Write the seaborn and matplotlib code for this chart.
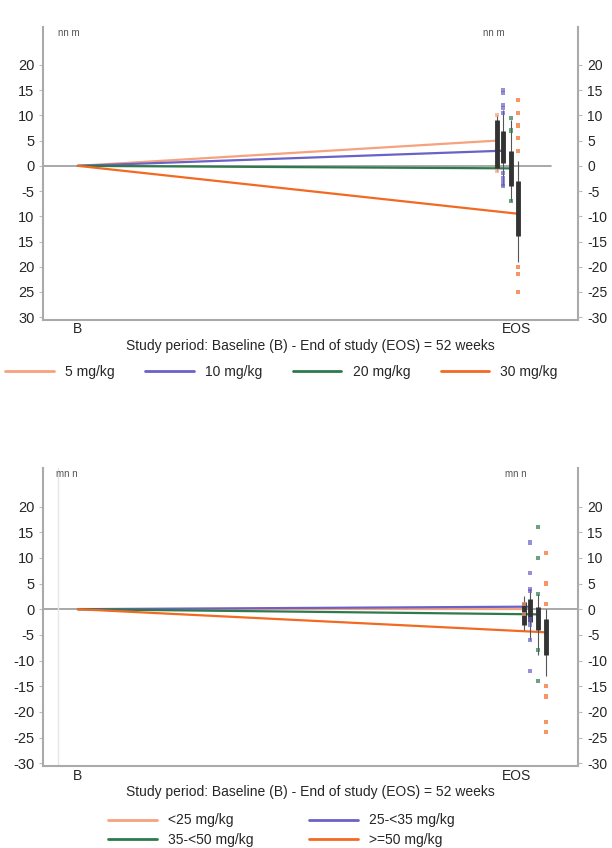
import pandas as pd
import matplotlib.pyplot as plt
import seaborn as sns
import numpy as np
from matplotlib.lines import Line2D

# data
top_groups = ['5 mg/kg', '10 mg/kg', '20 mg/kg', '30 mg/kg']
top_eos = [5, 3, -0.5, -9.5]
top_q1 = [-0.5, 0.5, -4, -14]
top_med = [5, 3, -0.5, -9.5]
top_q3 = [9, 7, 3, -3]
top_lo = [-1, -4, -7, -19]
top_hi = [10, 11, 9, 1]
top_pts = [[10, -1],
           [15, 14.5, 12, 11.5, 10.5, -1.5, -2.5, -3.5, -4],
           [9.5, 7, -7],
           [13, 10.5, 8, 5.5, 3, -20, -21.5, -25]]

bot_groups = ['<25 mg/kg', '25-<35 mg/kg', '35-<50 mg/kg', '>=50 mg/kg']
bot_eos = [0, 0.5, -1, -4.5]
bot_q1 = [-3, -2.5, -4, -9]
bot_med = [0, 0.5, -1, -4.5]
bot_q3 = [1.5, 2, 0.5, -2]
bot_lo = [-4, -6, -9, -13]
bot_hi = [2.5, 4, 3, 0]
bot_pts = [[1, -1],
           [13, 7, 4, 3.5, -2, -3, -6, -12],
           [16, 10, 3, -8, -14],
           [11, 5, 1, -15, -17, -22, -24]]

yticks = [-30, -25, -20, -15, -10, -5, 0, 5, 10, 15, 20]
top_left_labels = ['30', '25', '20', '15', '10', '-5', '0', '5', '10', '15', '20']
xlabel = 'Study period: Baseline (B) - End of study (EOS) = 52 weeks'

colors = ['#F6A27E', '#6A62C6', '#2E7A4C', '#F26A22']
top_dodge = [-0.045, -0.031, -0.012, 0.004]
bot_dodge = [0.018, 0.032, 0.050, 0.068]

sns.set_style('white')
plt.rcParams['font.family'] = ['Liberation Sans', 'DejaVu Sans']

fig = plt.figure(figsize=(6.12, 8.48), dpi=100)
ax1 = fig.add_axes([0.070, 0.623, 0.874, 0.345])
ax2 = fig.add_axes([0.070, 0.097, 0.874, 0.351])


def panel(ax, groups, eos, q1, med, q3, lo, hi, pts, dodge, left_labels, tag, tag_x, zero_end):
    rows = []
    for g, v, d in zip(groups, eos, dodge):
        rows.append({'x': 0, 'y': 0, 'group': g})
        rows.append({'x': 1 + d, 'y': v, 'group': g})
    df = pd.DataFrame(rows)
    ax.plot([-0.08, zero_end], [0, 0], color='#9a9a9a', lw=1.2, zorder=1)
    sns.lineplot(data=df, x='x', y='y', hue='group', palette=colors, lw=1.6,
                 legend=False, ax=ax, zorder=3)
    for i, g in enumerate(groups):
        x = 1 + dodge[i]
        ax.vlines(x, lo[i], hi[i], color='#555555', lw=0.8, zorder=4)
        ax.vlines(x, q1[i], q3[i], color='#333333', lw=3.5, zorder=5)
        sp = pd.DataFrame({'x': [x] * len(pts[i]), 'y': pts[i]})
        sns.scatterplot(data=sp, x='x', y='y', color=colors[i], marker='s', s=9,
                        alpha=0.7, edgecolor='none', ax=ax, zorder=6)
    ax.set_xlim(-0.08, 1.14)
    ax.set_ylim(-30.5, 27.5)
    ax.set_yticks(yticks)
    ax.set_yticklabels(left_labels, fontsize=10.5)
    ax.set_xticks([0, 1])
    ax.set_xticklabels(['B', 'EOS'], fontsize=10)
    ax.tick_params(axis='x', length=0, pad=2)
    ax.tick_params(axis='y', length=3, color='#bbbbbb', pad=3)
    ax.set_xlabel(xlabel, fontsize=10, labelpad=2)
    ax.set_ylabel('')
    for s in ['left', 'right', 'bottom']:
        ax.spines[s].set_color('#aaaaaa')
        ax.spines[s].set_linewidth(1.5)
    ax.spines['top'].set_visible(False)
    ax.text(tag_x[0], 26.3, tag, fontsize=7, color='#555555', ha='left', va='center')
    ax.text(tag_x[1], 26.3, tag, fontsize=7, color='#555555', ha='left', va='center')
    axr = ax.twinx()
    axr.set_ylim(ax.get_ylim())
    axr.set_yticks(yticks)
    axr.set_yticklabels([str(t) for t in yticks], fontsize=10)
    axr.tick_params(axis='y', length=3, color='#bbbbbb', pad=4)
    for s in ['left', 'right', 'bottom', 'top']:
        axr.spines[s].set_visible(False)


panel(ax1, top_groups, top_eos, top_q1, top_med, top_q3, top_lo, top_hi, top_pts,
      top_dodge, top_left_labels, 'nn m', (-0.045, 0.925), 1.08)
panel(ax2, bot_groups, bot_eos, bot_q1, bot_med, bot_q3, bot_lo, bot_hi, bot_pts,
      bot_dodge, [str(t) for t in yticks], 'mn n', (-0.05, 0.973), 1.14)
ax2.axvline(-0.045, color='#e6e6e6', lw=1)

h1 = [Line2D([], [], color=c, lw=2) for c in colors]
fig.legend(h1, top_groups, loc='center', bbox_to_anchor=(0.46, 0.561), ncol=4,
           frameon=False, fontsize=10, handlelength=3.5, columnspacing=2.2)
# column-wise fill: reorder so rows read <25, 25-<35 / 35-<50, >=50
order = [0, 2, 1, 3]
fig.legend([h1[i] for i in order], [bot_groups[i] for i in order], loc='center',
           bbox_to_anchor=(0.46, 0.021), ncol=2, frameon=False, fontsize=10,
           handlelength=3.5, columnspacing=4, labelspacing=0.4)

fig.savefig('out.png', dpi=100)
